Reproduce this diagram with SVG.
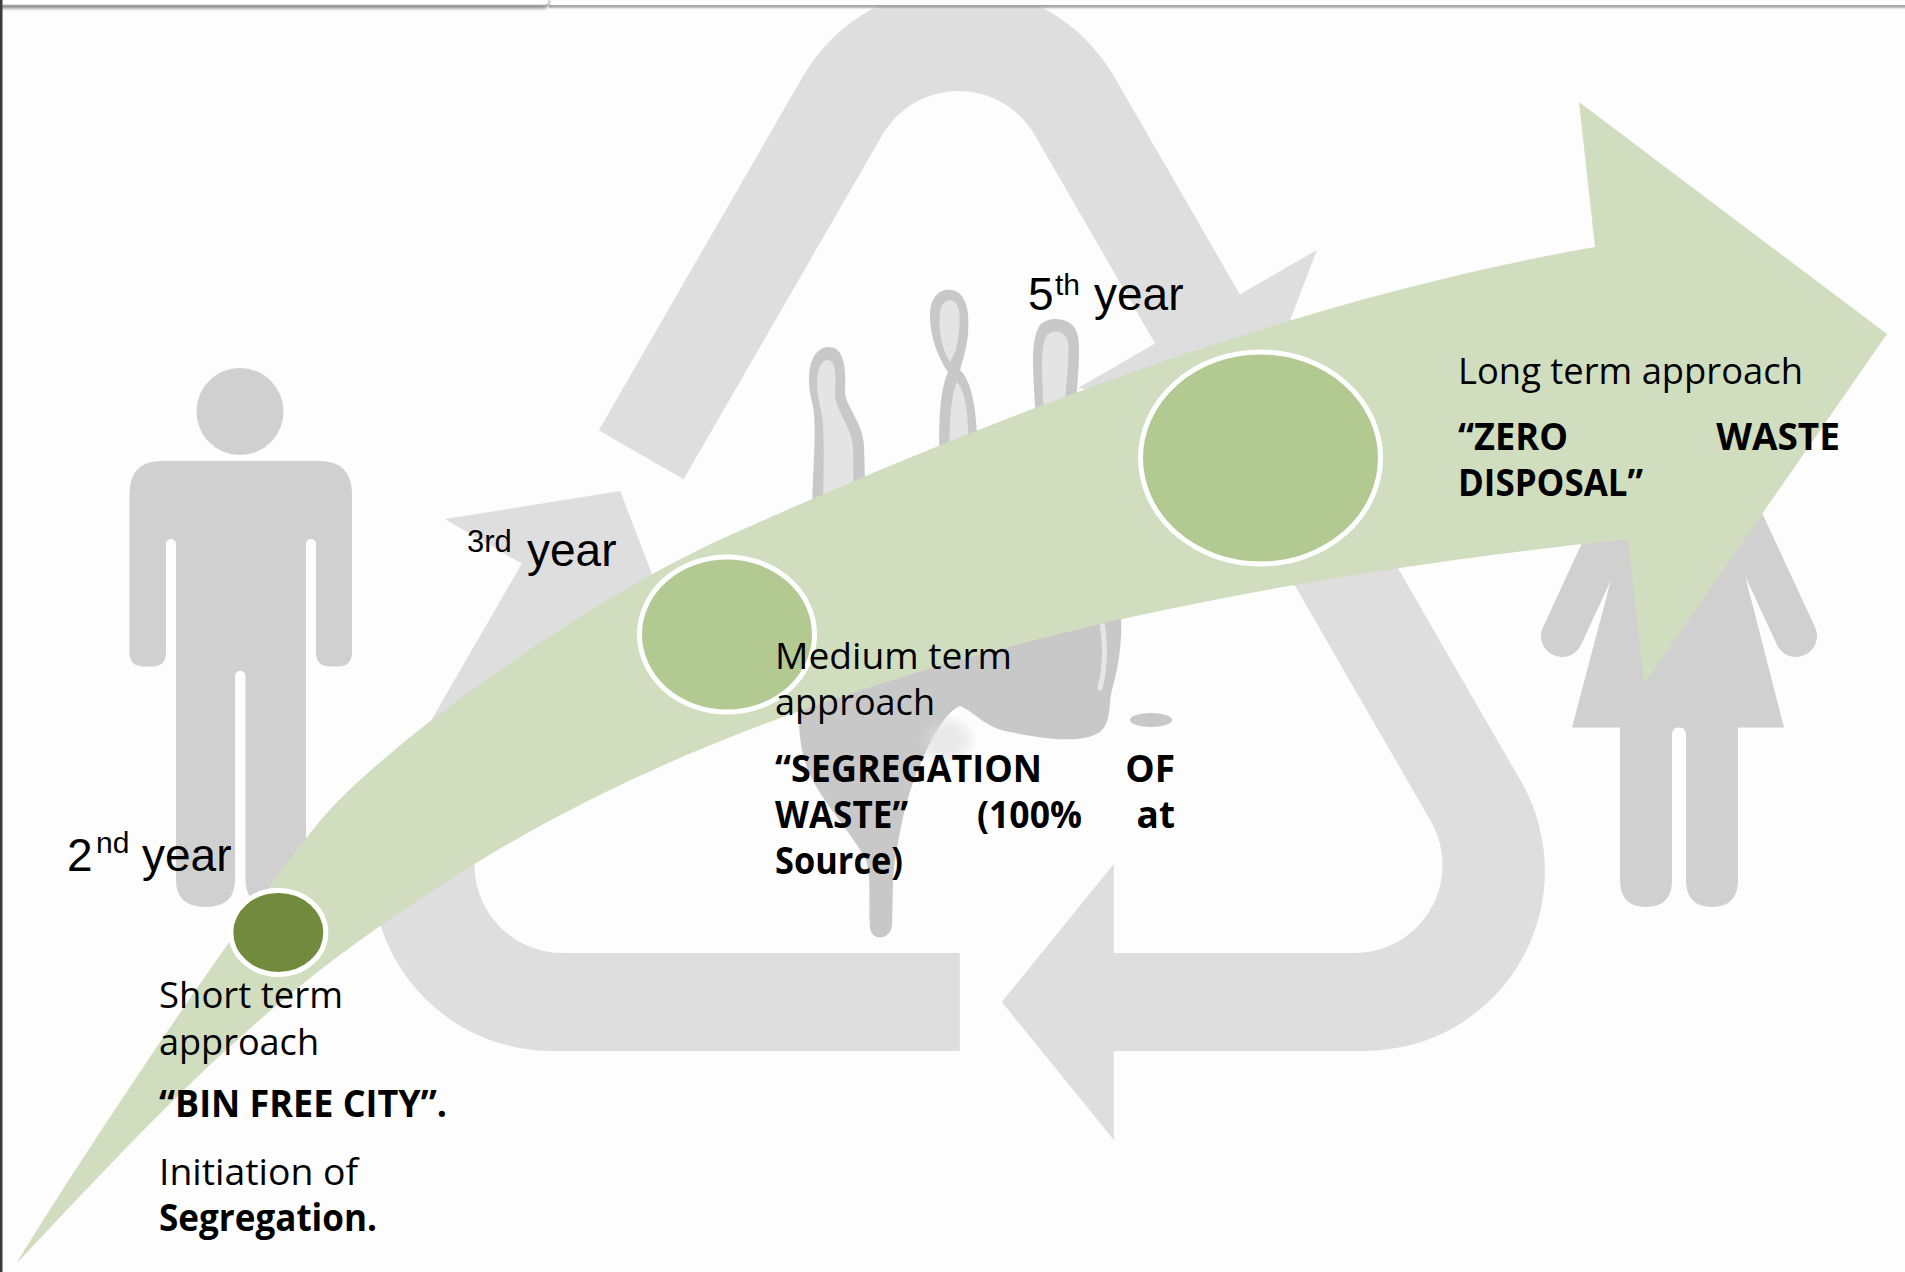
<svg xmlns="http://www.w3.org/2000/svg" width="1905" height="1272" viewBox="0 0 1905 1272">
  <defs>
    <style>
      .txt{font-family:"Open Sans","Noto Sans",sans-serif;font-size:37px;fill:#000}
      .b{font-weight:700}
      .yr{font-family:"Liberation Sans",Arial,sans-serif;font-size:46px;fill:#000}
      .sup{font-size:30px}
      .small{font-size:31px}
      .figure{fill:#d0d0d0}
      .recycle{fill:#dedede}
      .splash{fill:#c8c8c8}
      .splash-lt{fill:#e4e4e4}
      .stage{stroke:#fff;stroke-width:5}
      .band{fill:#d0debf}
    </style>
    <linearGradient id="topShade" x1="0" y1="0" x2="0" y2="1">
      <stop offset="0" stop-color="#8c8c8c"/>
      <stop offset="1" stop-color="#fdfdfd" stop-opacity="0"/>
    </linearGradient>
    <radialGradient id="splashGlow" cx="0.5" cy="0.5" r="0.5">
      <stop offset="0" stop-color="#ebebeb"/>
      <stop offset="1" stop-color="#c8c8c8" stop-opacity="0"/>
    </radialGradient>
    <filter id="soft" x="-5%" y="-60%" width="110%" height="260%">
      <feGaussianBlur stdDeviation="1.6"/>
    </filter>
  </defs>

  <rect width="1905" height="1272" fill="#fdfdfd"/>

  <!-- male pictogram -->
  <g id="man" class="figure">
    <circle cx="240" cy="411.5" r="43.5"/>
    <path d="M129.5,494 Q129.5,461 162,461 L319,461 Q352,461 352,494 L352,652 Q352,666.5 338,666.5 L330,666.5 Q316,666.5 316,652 L316,544 A5,5 0 0 0 306,544 L306,880 Q306,907 275.75,907 Q245.5,907 245.5,880 L245.5,676 A5.25,5.25 0 0 0 235,676 L235,880 Q235,907 205.5,907 Q176,907 176,880 L176,544 A5,5 0 0 0 166,544 L166,652 Q166,666.5 152,666.5 L143.5,666.5 Q129.5,666.5 129.5,652 Z"/>
  </g>

  <!-- female pictogram -->
  <g id="woman" class="figure">
    <circle cx="1679" cy="418" r="43"/>
    <line x1="1562" y1="636" x2="1639" y2="470" stroke="#d0d0d0" stroke-width="42" stroke-linecap="round"/>
    <line x1="1796" y1="636" x2="1719" y2="470" stroke="#d0d0d0" stroke-width="42" stroke-linecap="round"/>
    <polygon points="1640,470 1718,470 1784,727.5 1572,727.5"/>
    <path d="M1620,720 L1738,720 L1738,880 Q1738,907 1712,907 Q1686,907 1686,880 L1686,734 A7,7 0 0 0 1672,734 L1672,880 Q1672,907 1646,907 Q1620,907 1620,880 Z"/>
  </g>

  <!-- recycling loop: three bent arrows -->
  <g id="recycle" class="recycle">
    <path d="M683.6,479.2 L598.8,430.2 L802.6,77 A180,180 0 0 1 1114.4,77 L1239.9,294.4 L1317,249.9 L1253.5,415.9 L1078,387.9 L1155.1,343.4 L1034.7,135 A88,88 0 0 0 882.3,135 Z"/>
    <path d="M1232.1,476.8 L1316.9,427.8 L1520.8,781 A180,180 0 0 1 1364.9,1051 L1113.8,1051 L1113.8,1140 L1001.8,1002 L1113.8,864 L1113.8,953 L1354.5,953 A88,88 0 0 0 1430.7,821 Z"/>
    <path d="M959.8,953 L959.8,1051 L552.1,1051 A180,180 0 0 1 396.2,781 L521.8,563.6 L444.7,519.1 L620.2,491.1 L683.7,657.1 L606.6,612.6 L486.3,821 A88,88 0 0 0 562.5,953 Z"/>
  </g>

  <!-- hand splash -->
  <g id="hand">
    <path class="splash" d="M812,520 C812,470 818,425 812,402 C806,380 808,350 827,347 C845,345 846,370 845,390 C844,405 862,420 864,445 L866,520 Z"/>
    <path class="splash-lt" d="M823,520 C823,470 826,428 820,406 C815,386 816,362 827,360 C836,359 836,375 835,392 C834,410 852,425 853,448 L854,520 Z"/>
    <path class="splash" d="M940,470 C938,420 940,390 948,372 C940,360 930,340 930,315 C930,295 942,288 952,290 C966,293 970,310 968,335 C966,352 962,362 960,370 C970,380 978,400 978,470 Z"/>
    <path class="splash-lt" d="M950,362 C942,350 938,330 940,312 C942,300 950,298 955,302 C962,308 960,330 956,350 Z"/>
    <path class="splash-lt" d="M950,470 C948,420 952,392 957,382 C966,392 969,415 969,470 Z"/>
    <path class="splash" d="M1036,420 C1033,370 1030,340 1040,325 C1050,315 1070,318 1076,330 C1082,345 1078,370 1075,420 Z"/>
    <path class="splash-lt" d="M1044,420 C1042,375 1040,345 1047,335 C1055,328 1066,332 1068,342 C1070,355 1066,380 1064,420 Z"/>
    <path class="splash" d="M800,690 L1120,600 C1124,640 1118,668 1112,690 C1108,705 1112,722 1100,732 C1080,745 1040,738 1010,732 C985,728 975,712 960,706 C945,712 930,740 918,770 C905,800 900,830 895,860 C892,880 893,905 892,925 C891,940 872,942 870,928 C868,905 872,880 866,860 C850,830 820,800 808,770 C800,750 797,725 800,690 Z"/>
    <ellipse cx="945" cy="740" rx="32" ry="26" fill="url(#splashGlow)"/>
    <path d="M1100,612 C1106,640 1106,665 1100,688" fill="none" stroke="#e6e6e6" stroke-width="5" stroke-linecap="round"/>
    <ellipse cx="1151" cy="720" rx="21" ry="7" class="splash"/>
  </g>

  <!-- sweeping arrow linking the three stages -->
  <g id="connectors">
    <path id="stage-arrow" class="band" d="M16,1264 C95,1135 279,860 339,800 C419,720 596,595.5 726,537 C1026,402 1315,296 1595,247 L1579,102 L1887,334 L1644,684 L1628,539 C1228,581.4 793,666.6 473,865 C283,982.6 195,1073 16,1264 Z"/>
  </g>

  <!-- stage: 2nd year -->
  <g id="stage-short">
    <ellipse class="stage" cx="278.3" cy="932.5" rx="47.5" ry="42" fill="#728a3e"/>
    <text class="yr" x="67" y="871">2</text>
    <text class="yr sup" x="96" y="853">nd</text>
    <text class="yr" x="142" y="871">year</text>
    <text class="txt" x="159" y="1008" textLength="184" lengthAdjust="spacingAndGlyphs">Short term</text>
    <text class="txt" x="159" y="1054.5" textLength="160" lengthAdjust="spacingAndGlyphs">approach</text>
    <text class="txt b" x="159" y="1117" textLength="288" lengthAdjust="spacingAndGlyphs">“BIN FREE CITY”.</text>
    <text class="txt" x="159" y="1185" textLength="199" lengthAdjust="spacingAndGlyphs">Initiation of</text>
    <text class="txt b" x="159" y="1231" textLength="218" lengthAdjust="spacingAndGlyphs">Segregation.</text>
  </g>

  <!-- stage: 3rd year -->
  <g id="stage-medium">
    <ellipse class="stage" cx="727" cy="634.5" rx="87.5" ry="77.5" fill="#b3c992"/>
    <text class="yr small" x="467" y="551.5">3rd</text>
    <text class="yr" x="527" y="566">year</text>
    <text class="txt" x="775" y="669" textLength="237" lengthAdjust="spacingAndGlyphs">Medium term</text>
    <text class="txt" x="775" y="715" textLength="160" lengthAdjust="spacingAndGlyphs">approach</text>
    <text class="txt b" x="775" y="782" textLength="267" lengthAdjust="spacingAndGlyphs">“SEGREGATION</text>
    <text class="txt b" x="1175" y="782" text-anchor="end">OF</text>
    <text class="txt b" x="775" y="828" textLength="133" lengthAdjust="spacingAndGlyphs">WASTE”</text>
    <text class="txt b" x="977" y="828" textLength="105" lengthAdjust="spacingAndGlyphs">(100%</text>
    <text class="txt b" x="1175" y="828" text-anchor="end">at</text>
    <text class="txt b" x="775" y="873.5" textLength="128" lengthAdjust="spacingAndGlyphs">Source)</text>
  </g>

  <!-- stage: 5th year -->
  <g id="stage-long">
    <ellipse class="stage" cx="1260.5" cy="458" rx="120" ry="106" fill="#b3c992"/>
    <text class="yr" x="1028" y="310">5</text>
    <text class="yr sup" x="1055" y="295">th</text>
    <text class="yr" x="1094" y="310">year</text>
    <text class="txt" x="1458" y="384" textLength="345" lengthAdjust="spacingAndGlyphs">Long term approach</text>
    <text class="txt b" x="1458" y="450" textLength="110" lengthAdjust="spacingAndGlyphs">“ZERO</text>
    <text class="txt b" x="1840" y="450" text-anchor="end">WASTE</text>
    <text class="txt b" x="1458" y="496" textLength="185" lengthAdjust="spacingAndGlyphs">DISPOSAL”</text>
  </g>

  <!-- slide frame -->
  <g id="frame">
    <rect x="0" y="0" width="1905" height="5.5" fill="#fdfdfd"/>
    <rect x="549" y="5" width="1356" height="1.6" fill="#a4a4a4"/>
    <rect x="549" y="6.6" width="1356" height="3.4" fill="url(#topShade)"/>
    <rect x="-6" y="-10" width="555" height="16" rx="5" fill="#333" opacity="0.55" filter="url(#soft)" transform="translate(0,2.5)"/>
    <rect x="-6" y="-10" width="555" height="15" rx="4" fill="#fff" stroke="#c0c0c0" stroke-width="1"/>
    <rect x="0" y="0" width="2.5" height="1272" fill="#3a3a3a"/>
  </g>
</svg>
